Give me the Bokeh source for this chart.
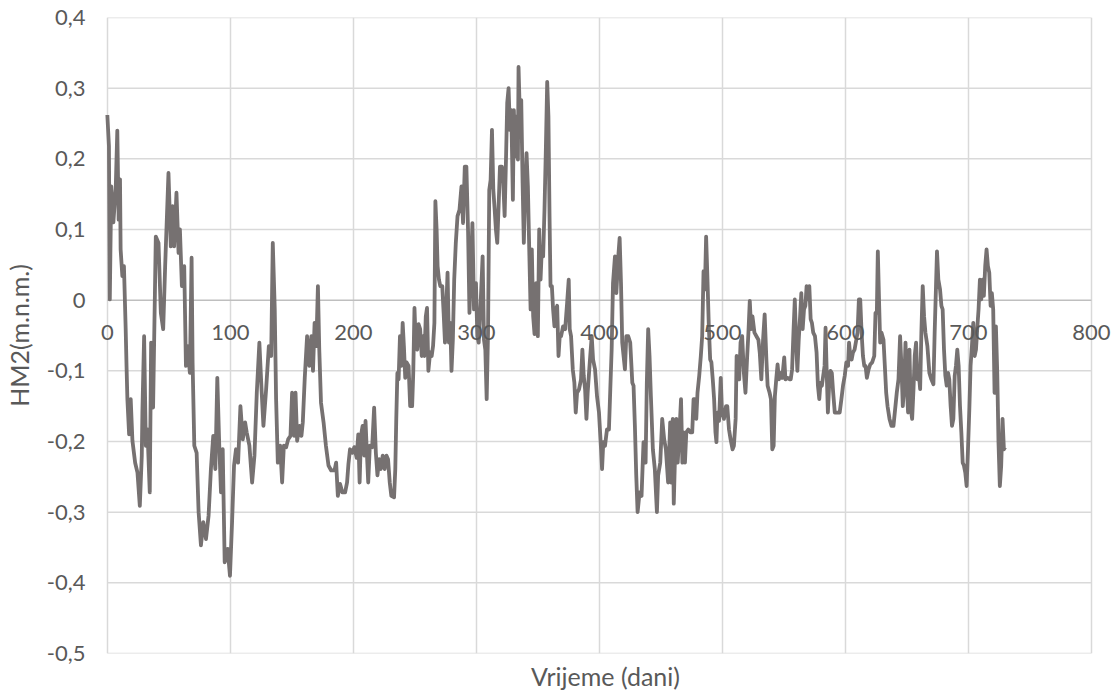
from bokeh.plotting import figure
from bokeh.models import FixedTicker, CustomJSTickFormatter, Range1d, LabelSet, ColumnDataSource
from bokeh.core.properties import value
from bokeh.embed import file_html
from bokeh.resources import INLINE

days = [0.0, 1.3, 2.0, 3.2, 4.9, 6.8, 8.1, 9.2, 10.3, 10.8, 12.2, 13.5, 14.9, 15.6, 16.3, 17.7, 19.0, 20.4, 22.6, 24.5,
        26.4, 28.0, 28.5, 29.9, 31.3, 32.6, 34.5, 35.6, 37.2, 39.4, 41.6, 43.5, 45.4, 47.0, 49.7, 51.6, 53.0, 54.3, 56.2, 57.9,
        59.0, 60.6, 62.5, 63.9, 65.2, 67.1, 68.5, 69.3, 70.7, 72.6, 74.2, 76.1, 78.0, 80.2, 82.3, 84.2, 86.1, 87.8, 89.4, 91.0,
        92.4, 93.8, 95.4, 97.8, 99.7, 101.4, 103.0, 104.6, 106.3, 108.2, 110.1, 112.0, 113.3, 115.5, 117.7, 119.6, 121.5, 123.6, 125.5, 126.9,
        129.1, 131.3, 133.2, 134.5, 136.1, 137.2, 138.6, 140.5, 142.1, 143.5, 145.4, 147.0, 148.9, 150.2, 151.9, 153.0, 154.3, 156.2, 157.8, 158.9,
        160.5, 162.4, 164.2, 165.9, 167.2, 168.5, 169.9, 171.2, 172.3, 173.7, 175.8, 177.7, 179.8, 182.0, 184.7, 186.0, 187.4, 189.2, 191.1, 193.3,
        194.9, 196.0, 197.3, 199.2, 200.8, 202.7, 204.0, 205.1, 206.2, 207.5, 208.9, 209.9, 211.0, 212.1, 213.4, 215.3, 216.9, 218.3, 219.6, 221.0,
        222.3, 223.9, 225.5, 226.9, 228.2, 229.6, 230.9, 233.1, 234.1, 234.9, 235.8, 236.8, 237.9, 239.0, 240.1, 241.1, 242.2, 243.3, 244.9, 246.2,
        247.8, 248.7, 249.7, 250.8, 251.9, 253.0, 254.3, 255.6, 256.7, 257.8, 258.9, 259.9, 261.0, 262.4, 263.7, 264.8, 265.9, 266.7, 267.7, 268.5,
        269.6, 270.7, 272.3, 273.4, 274.5, 275.5, 276.6, 277.7, 278.8, 279.8, 280.9, 282.0, 283.3, 284.7, 286.3, 287.9, 289.2, 290.6, 291.9, 293.3,
        294.4, 295.4, 296.8, 298.1, 299.7, 300.8, 301.9, 303.5, 305.1, 306.2, 307.3, 308.4, 309.5, 310.5, 311.6, 312.7, 313.8, 314.9, 315.9, 317.0,
        318.1, 319.2, 320.8, 321.9, 323.0, 324.1, 325.1, 326.2, 327.3, 328.4, 329.7, 330.5, 331.6, 332.7, 333.8, 334.3, 335.4, 336.5, 337.6, 338.6,
        339.7, 340.8, 341.9, 343.0, 344.1, 345.1, 346.2, 347.3, 348.6, 350.0, 351.1, 352.2, 353.2, 354.3, 355.4, 356.5, 357.6, 358.6, 359.5, 360.3,
        361.4, 362.4, 363.5, 364.6, 365.7, 366.8, 367.8, 368.9, 370.5, 372.2, 373.8, 375.1, 375.9, 377.0, 378.4, 379.7, 380.8, 381.9, 383.5, 385.1,
        386.2, 387.3, 388.4, 389.5, 390.5, 392.2, 393.8, 394.9, 396.5, 398.1, 399.7, 401.4, 402.2, 403.2, 404.6, 406.2, 407.8, 408.9, 410.0, 411.1,
        412.7, 413.8, 415.4, 416.5, 417.6, 418.6, 419.7, 420.8, 421.9, 423.5, 425.1, 426.8, 427.8, 428.9, 430.0, 431.1, 432.7, 434.3, 435.9, 437.6,
        438.6, 439.7, 440.8, 441.9, 443.5, 445.1, 446.8, 447.8, 449.5, 451.1, 452.7, 454.1, 455.9, 457.6, 458.3, 459.7, 460.5, 461.6, 462.6, 463.7,
        465.1, 466.4, 467.5, 468.5, 469.6, 470.7, 472.3, 473.9, 475.5, 476.6, 477.7, 478.8, 479.8, 481.2, 482.5, 483.6, 484.7, 485.8, 486.8, 487.9,
        489.0, 490.1, 491.1, 492.2, 493.3, 494.4, 495.2, 496.0, 497.3, 498.7, 499.7, 501.3, 503.0, 504.0, 505.4, 506.7, 508.3, 509.4, 510.8, 511.6,
        512.6, 513.7, 514.8, 516.1, 517.5, 518.8, 520.2, 521.2, 522.3, 523.4, 524.5, 526.1, 527.7, 529.3, 530.4, 531.7, 533.1, 534.4, 535.8, 536.8,
        538.4, 539.5, 540.6, 541.7, 542.7, 543.8, 544.9, 546.0, 547.0, 548.7, 550.3, 551.3, 553.0, 554.6, 555.6, 556.7, 557.8, 558.9, 560.0, 561.0,
        562.1, 563.2, 564.2, 565.3, 566.4, 567.5, 568.5, 569.6, 570.7, 571.8, 572.8, 573.9, 575.3, 576.6, 577.7, 578.8, 579.8, 580.9, 582.0, 583.1,
        583.9, 584.7, 585.8, 586.8, 587.9, 589.0, 590.1, 591.4, 592.7, 594.1, 595.4, 596.8, 598.1, 599.5, 600.8, 602.2, 603.0, 604.0, 605.1, 606.2,
        607.5, 608.9, 609.9, 611.0, 612.1, 613.2, 614.3, 615.4, 616.4, 617.5, 618.9, 620.2, 621.8, 623.5, 624.5, 625.6, 626.4, 627.5, 628.3, 629.4,
        631.0, 632.1, 633.2, 634.3, 635.9, 637.5, 639.1, 640.2, 641.8, 643.2, 644.5, 645.6, 646.7, 647.8, 648.9, 649.9, 651.0, 652.1, 653.2, 654.3,
        655.4, 656.4, 657.5, 658.6, 659.7, 660.8, 661.8, 662.9, 664.0, 665.1, 666.7, 668.3, 669.9, 671.6, 672.6, 673.7, 674.5, 675.6, 677.0, 678.1,
        679.1, 680.2, 681.3, 682.4, 683.5, 684.5, 685.6, 686.7, 687.8, 688.9, 689.9, 691.0, 692.1, 693.2, 694.3, 695.4, 696.4, 697.5, 698.6, 699.7,
        700.8, 701.8, 702.9, 704.0, 705.1, 706.2, 707.2, 708.3, 709.4, 710.5, 711.6, 712.6, 713.7, 714.8, 715.9, 717.0, 718.1, 719.1, 720.2, 721.3,
        722.4, 723.5, 724.5, 725.6, 726.7, 727.8, 728.9, 729.9]

levels = [0.262, 0.218, 0.001, 0.161, 0.110, 0.157, 0.240, 0.114, 0.171, 0.072, 0.034, 0.048, -0.040, -0.093, -0.140, -0.190, -0.140, -0.199, -0.230, -0.244,
          -0.291, -0.220, -0.159, -0.051, -0.206, -0.183, -0.272, -0.060, -0.152, 0.090, 0.081, -0.018, -0.041, 0.048, 0.180, 0.076, 0.133, 0.076, 0.152, 0.067,
          0.100, 0.020, 0.048, -0.093, -0.065, -0.103, 0.060, -0.088, -0.206, -0.216, -0.300, -0.347, -0.314, -0.338, -0.305, -0.239, -0.192, -0.239, -0.110, -0.206,
          -0.272, -0.211, -0.371, -0.352, -0.390, -0.314, -0.234, -0.211, -0.230, -0.150, -0.197, -0.173, -0.187, -0.206, -0.258, -0.220, -0.131, -0.060, -0.131, -0.178,
          -0.126, -0.065, -0.079, 0.081, -0.013, -0.140, -0.230, -0.206, -0.258, -0.206, -0.208, -0.197, -0.192, -0.131, -0.192, -0.131, -0.199, -0.178, -0.192, -0.173,
          -0.110, -0.051, -0.093, -0.051, -0.100, -0.032, -0.065, 0.020, -0.070, -0.145, -0.173, -0.206, -0.234, -0.241, -0.241, -0.230, -0.277, -0.260, -0.272, -0.272,
          -0.258, -0.232, -0.211, -0.216, -0.208, -0.223, -0.190, -0.258, -0.192, -0.178, -0.220, -0.171, -0.216, -0.258, -0.206, -0.208, -0.152, -0.216, -0.248, -0.225,
          -0.239, -0.220, -0.239, -0.220, -0.225, -0.258, -0.277, -0.279, -0.239, -0.168, -0.103, -0.112, -0.051, -0.093, -0.032, -0.065, -0.110, -0.088, -0.093, -0.150,
          -0.150, -0.103, -0.011, -0.065, -0.070, -0.034, -0.041, -0.079, -0.051, -0.079, -0.023, -0.011, -0.100, -0.074, -0.079, -0.065, -0.032, 0.140, 0.100, 0.048,
          0.029, 0.020, 0.020, -0.018, -0.060, -0.013, 0.039, -0.060, -0.032, -0.100, -0.056, 0.029, 0.081, 0.119, 0.128, 0.161, 0.109, 0.189, 0.189, 0.095,
          -0.018, 0.034, 0.109, -0.013, 0.024, -0.051, -0.060, -0.004, 0.062, -0.056, -0.070, -0.140, -0.046, 0.156, 0.170, 0.241, 0.156, 0.128, 0.100, 0.081,
          0.133, 0.189, 0.189, 0.166, 0.119, 0.199, 0.279, 0.300, 0.241, 0.269, 0.142, 0.269, 0.203, 0.260, 0.199, 0.330, 0.260, 0.283, 0.166, 0.081,
          0.156, 0.208, 0.161, 0.072, -0.013, 0.072, -0.023, -0.048, 0.024, -0.051, 0.100, 0.029, 0.072, 0.062, 0.128, 0.213, 0.309, 0.260, 0.119, 0.020,
          0.020, -0.013, -0.037, -0.013, -0.008, -0.079, -0.051, -0.051, -0.037, -0.041, -0.004, 0.029, -0.041, -0.051, -0.098, -0.117, -0.159, -0.131, -0.126, -0.112,
          -0.070, -0.107, -0.126, -0.168, -0.131, -0.088, -0.051, -0.084, -0.098, -0.136, -0.159, -0.211, -0.239, -0.201, -0.206, -0.183, -0.183, -0.126, -0.070, 0.024,
          0.062, 0.010, 0.062, 0.088, 0.024, -0.060, -0.079, -0.098, -0.051, -0.051, -0.060, -0.117, -0.121, -0.178, -0.248, -0.300, -0.272, -0.277, -0.201, -0.230,
          -0.117, -0.041, -0.079, -0.136, -0.211, -0.239, -0.300, -0.248, -0.230, -0.168, -0.197, -0.211, -0.258, -0.173, -0.258, -0.168, -0.288, -0.216, -0.168, -0.230,
          -0.187, -0.140, -0.230, -0.187, -0.230, -0.187, -0.183, -0.187, -0.187, -0.140, -0.140, -0.168, -0.131, -0.107, -0.079, -0.051, 0.041, 0.015, 0.090, 0.029,
          -0.037, -0.084, -0.088, -0.112, -0.140, -0.187, -0.201, -0.159, -0.171, -0.110, -0.159, -0.168, -0.150, -0.150, -0.183, -0.197, -0.211, -0.206, -0.168, -0.079,
          -0.103, -0.112, -0.060, -0.051, -0.103, -0.131, -0.079, -0.046, -0.001, -0.041, -0.023, -0.046, -0.051, -0.056, -0.074, -0.112, -0.056, -0.020, -0.084, -0.121,
          -0.131, -0.140, -0.211, -0.206, -0.136, -0.112, -0.091, -0.112, -0.103, -0.110, -0.081, -0.112, -0.110, -0.112, -0.112, -0.098, -0.046, 0.001, -0.060, -0.100,
          -0.056, -0.023, 0.010, -0.041, -0.013, -0.008, 0.020, 0.001, 0.020, -0.027, -0.032, -0.046, -0.051, -0.074, -0.121, -0.140, -0.117, -0.121, -0.107, -0.093,
          -0.039, -0.093, -0.159, -0.121, -0.100, -0.103, -0.131, -0.159, -0.159, -0.159, -0.159, -0.140, -0.121, -0.107, -0.088, -0.093, -0.060, -0.079, -0.084, -0.074,
          -0.070, -0.056, -0.046, 0.001, 0.001, -0.046, -0.079, -0.093, -0.093, -0.110, -0.098, -0.091, -0.088, -0.079, -0.018, -0.018, 0.069, -0.008, -0.060, -0.046,
          -0.056, -0.093, -0.131, -0.150, -0.168, -0.178, -0.178, -0.159, -0.131, -0.112, -0.051, -0.093, -0.150, -0.121, -0.060, -0.121, -0.159, -0.070, -0.154, -0.168,
          -0.126, -0.079, -0.060, -0.112, -0.103, -0.126, -0.046, 0.020, -0.023, -0.046, -0.065, -0.103, -0.112, -0.119, -0.046, 0.020, 0.069, 0.029, 0.015, -0.008,
          -0.013, -0.070, -0.107, -0.121, -0.103, -0.112, -0.150, -0.178, -0.168, -0.107, -0.093, -0.070, -0.093, -0.150, -0.187, -0.230, -0.234, -0.244, -0.263, -0.211,
          -0.154, -0.093, -0.065, -0.032, -0.079, -0.070, -0.041, -0.013, 0.029, 0.001, 0.029, 0.006, 0.048, 0.072, 0.048, 0.039, -0.008, 0.010, -0.013, -0.131,
          -0.037, -0.103, -0.201, -0.263, -0.234, -0.168, -0.211, -0.208]

x_ticks = [0, 100, 200, 300, 400, 500, 600, 700, 800]
y_ticks = [-0.5, -0.4, -0.3, -0.2, -0.1, 0.0, 0.1, 0.2, 0.3, 0.4]
x_title = "Vrijeme (dani)"
y_title = "HM2(m.n.m.)"

FONT = "Lato"
TXT = "#595959"
GRID = "#d9d9d9"
AXIS = "#bfbfbf"

# the frame is a little wider than 0..800 so that the tick labels at both ends are not clipped
p = figure(width=1116, height=693, output_backend="svg", toolbar_location=None,
           x_range=Range1d(-8, 818), y_range=Range1d(-0.5, 0.4),
           min_border_left=95, min_border_right=3, min_border_top=17, min_border_bottom=38)
p.outline_line_color = None
p.background_fill_color = "white"

fmt = CustomJSTickFormatter(code="""
if (Math.abs(tick) < 1e-9) { return "0"; }
return tick.toFixed(1).replace('.', ',');
""")

# bottom axis only carries the title
xa = p.xaxis[0]
xa.ticker = FixedTicker(ticks=[])
xa.axis_label = x_title
xa.axis_line_color = None
xa.major_tick_line_color = None
xa.minor_tick_line_color = None
xa.major_tick_out = 0
xa.major_label_standoff = 0
xa.axis_label_standoff = 7
xa.axis_label_text_font = FONT
xa.axis_label_text_font_size = "25px"
xa.axis_label_text_font_style = "normal"
xa.axis_label_text_color = TXT

ya = p.yaxis[0]
ya.ticker = FixedTicker(ticks=y_ticks)
ya.formatter = fmt
ya.axis_line_color = None
ya.major_tick_line_color = None
ya.minor_tick_line_color = None
ya.major_tick_out = 0
ya.major_label_standoff = 12
ya.major_label_text_font = FONT
ya.major_label_text_font_size = "22px"
ya.major_label_text_color = TXT
ya.axis_label = y_title
ya.axis_label_standoff = 10
ya.axis_label_text_font = FONT
ya.axis_label_text_font_size = "25px"
ya.axis_label_text_font_style = "normal"
ya.axis_label_text_color = TXT

# vertical grid lines (incl. the one at 0 and 800)
p.xgrid.ticker = FixedTicker(ticks=x_ticks)
p.xgrid.grid_line_color = GRID
p.xgrid.grid_line_width = 1.5
p.ygrid.visible = False

# horizontal grid lines limited to 0..800; the zero line is the axis (darker)
x_lo, x_hi = x_ticks[0], x_ticks[-1]
grid_colors = [AXIS if abs(v) < 1e-9 else GRID for v in y_ticks]
p.segment(x0=[x_lo] * len(y_ticks), x1=[x_hi] * len(y_ticks), y0=y_ticks, y1=y_ticks,
          line_color=grid_colors, line_width=1.5)

p.line(days, levels, line_color="#767171", line_width=3.8, line_join="round")

# x tick labels sitting under the zero line
tick_src = ColumnDataSource(data=dict(x=x_ticks, y=[0] * len(x_ticks), t=[str(v) for v in x_ticks]))
p.add_layout(LabelSet(x="x", y="y", text="t", source=tick_src, y_offset=-25,
                      text_align="center", text_baseline="top",
                      text_font=value(FONT), text_font_size="22px", text_color=TXT))

open("out.html", "w").write(file_html(p, INLINE))
